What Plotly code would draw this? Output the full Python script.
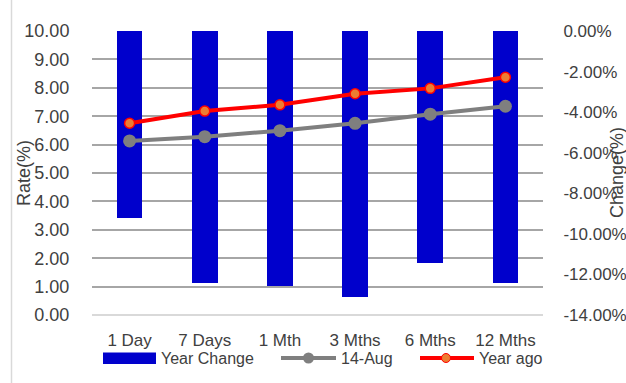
import plotly.graph_objects as go

# Tenor buckets along the x axis
tenors = ["1 Day", "7 Days", "1 Mth", "3 Mths", "6 Mths", "12 Mths"]

# Yield levels (%) on the left axis
rate_14_aug = [6.13, 6.28, 6.49, 6.75, 7.07, 7.35]
rate_year_ago = [6.75, 7.18, 7.40, 7.79, 7.98, 8.37]

# Year-on-year change (fraction) on the right axis
year_change = [-0.092, -0.1243, -0.1259, -0.131, -0.1144, -0.1243]

# Right-axis tick positions
change_ticks = [0.0, -0.02, -0.04, -0.06, -0.08, -0.10, -0.12, -0.14]
change_ticktext = [f"{v * 100:.2f}%" for v in change_ticks]
change_ticktext[0] = "0.00%"

FONT = "Liberation Sans"
TXT = "#404040"
BLUE = "#0000CC"
GREY = "#7F7F7F"
RED = "#FF0000"
ORANGE = "#ED7D31"

W, H = 626, 383
ML, MR, MT, MB = 92, 83, 31, 68
PW, PH = W - ML - MR, H - MT - MB


def px(x):
    """Horizontal pixel -> paper fraction."""
    return (x - ML) / PW


def py(y):
    """Vertical pixel (from top) -> paper fraction."""
    return (H - MB - y) / PH


fig = go.Figure()

# Bars live on the primary axis (drawn first, shown on the right side)
fig.add_trace(go.Bar(
    x=tenors, y=year_change, name="Year Change",
    marker=dict(color=BLUE, line=dict(width=0)),
    width=0.34, yaxis="y",
))

# Lines on the overlaying axis so they render above the bars
fig.add_trace(go.Scatter(
    x=tenors, y=rate_14_aug, name="14-Aug", mode="lines+markers",
    line=dict(color=GREY, width=4),
    marker=dict(color=GREY, size=13, line=dict(width=0)),
    yaxis="y2",
))
fig.add_trace(go.Scatter(
    x=tenors, y=rate_year_ago, name="Year ago", mode="lines+markers",
    line=dict(color=RED, width=4),
    marker=dict(color=ORANGE, size=10, line=dict(color=RED, width=1.5)),
    yaxis="y2",
))

fig.update_layout(
    width=W, height=H,
    margin=dict(l=ML, r=MR, t=MT, b=MB, autoexpand=False),
    paper_bgcolor="white", plot_bgcolor="white",
    font=dict(family=FONT, size=18, color=TXT),
    xaxis=dict(
        showgrid=False, showline=False, automargin=False,
        ticks="outside", ticklen=10, tickcolor="rgba(0,0,0,0)",
        tickfont=dict(size=17, color=TXT),
    ),
    yaxis=dict(
        side="right", range=[-0.14, 0],
        tickvals=change_ticks, ticktext=change_ticktext,
        showgrid=False, zeroline=False, showline=False, automargin=False,
        ticks="outside", ticklen=16, tickcolor="rgba(0,0,0,0)",
        tickfont=dict(size=17, color=TXT),
    ),
    yaxis2=dict(
        side="left", overlaying="y", range=[0, 10], dtick=1, tickformat=".2f",
        showgrid=True, gridcolor="#A6A6A6", gridwidth=1.5,
        zeroline=True, zerolinecolor="#D9D9D9", zerolinewidth=2,
        showline=False, automargin=False,
        ticks="outside", ticklen=18, tickcolor="rgba(0,0,0,0)",
        tickfont=dict(size=18, color=TXT),
    ),
    showlegend=False,
    bargap=0,
)

# Axis titles
fig.add_annotation(
    text="Rate(%)", xref="paper", yref="paper", x=px(24), y=0.5,
    textangle=-90, showarrow=False, font=dict(size=18, color=TXT),
    xanchor="center", yanchor="middle",
)
fig.add_annotation(
    text="Change(%)", xref="paper", yref="paper", x=px(617), y=0.5,
    textangle=-90, showarrow=False, font=dict(size=18, color=TXT),
    xanchor="center", yanchor="middle",
)

# Chart-area border on the left edge
fig.add_shape(
    type="line", xref="paper", yref="paper",
    x0=px(11.5), x1=px(11.5), y0=py(H + 5), y1=py(-5),
    line=dict(color="#D9D9D9", width=1.5),
)

# Legend row below the category labels
LEG_Y = 358
# Year Change: wide filled swatch
fig.add_shape(
    type="rect", xref="paper", yref="paper",
    x0=px(103), x1=px(156), y0=py(364), y1=py(352.5),
    fillcolor=BLUE, line=dict(width=0),
)
# 14-Aug: line with marker
fig.add_shape(
    type="line", xref="paper", yref="paper",
    x0=px(281), x1=px(336), y0=py(LEG_Y), y1=py(LEG_Y),
    line=dict(color=GREY, width=4),
)
fig.add_shape(
    type="circle", xref="paper", yref="paper",
    x0=px(303), x1=px(314), y0=py(LEG_Y + 5.5), y1=py(LEG_Y - 5.5),
    fillcolor=GREY, line=dict(width=0),
)
# Year ago: line with marker
fig.add_shape(
    type="line", xref="paper", yref="paper",
    x0=px(420), x1=px(474), y0=py(LEG_Y), y1=py(LEG_Y),
    line=dict(color=RED, width=4),
)
fig.add_shape(
    type="circle", xref="paper", yref="paper",
    x0=px(441.5), x1=px(450.5), y0=py(LEG_Y + 4.5), y1=py(LEG_Y - 4.5),
    fillcolor=ORANGE, line=dict(color=RED, width=1),
)
for label, x0 in [("Year Change", 159), ("14-Aug", 339), ("Year ago", 477)]:
    fig.add_annotation(
        text=label, xref="paper", yref="paper", x=px(x0), y=py(LEG_Y),
        xanchor="left", yanchor="middle", showarrow=False,
        font=dict(size=16, color=TXT),
    )

fig.write_html("out.html")
